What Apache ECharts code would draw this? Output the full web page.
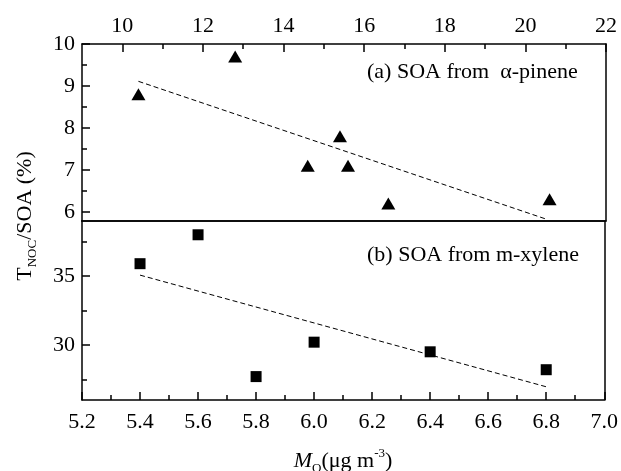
<!DOCTYPE html>
<html>
<head>
<meta charset="utf-8">
<script src="https://cdn.jsdelivr.net/npm/echarts@6/dist/echarts.min.js"></script>
<style>
html, body { margin: 0; padding: 0; background: #fff; }
#chart { width: 621px; height: 471px; }
</style>
</head>
<body>
<div id="chart"></div>
<script>
// panel (a): alpha-pinene, x on the top axis
const topX = [10.4, 12.8, 14.6, 15.4, 15.6, 16.6, 20.6]
const topY = [8.8, 9.7, 7.1, 7.8, 7.1, 6.2, 6.3]
const topFitX = [10.4, 20.5]
const topFitY = [9.11, 5.83]
// panel (b): m-xylene, x on the bottom axis
const botX = [5.4, 5.6, 5.8, 6.0, 6.4, 6.8]
const botY = [35.9, 38.0, 27.7, 30.2, 29.5, 28.2]
const botFitX = [5.4, 6.8]
const botFitY = [35.07, 26.96]
// ticks
const topXTicks = [10, 12, 14, 16, 18, 20, 22]
const topXMinor = [11, 13, 15, 17, 19, 21]
const topYTicks = [6, 7, 8, 9, 10]
const topYMinor = [6.5, 7.5, 8.5, 9.5]
const botYTicks = [30, 35]
const botYMinor = [27.5, 32.5, 37.5]

const FONT = 'Liberation Serif'
const black = '#000'
const edge = { color: black, width: 1.5 }

function pairs(xs, ys) {
  return xs.map((x, i) => [x, ys[i]])
}

// main axis with inward ticks and labels
function axis(opts, ticks) {
  const a = {
    type: 'value',
    splitLine: { show: false },
    axisLine: { show: true, onZero: false, lineStyle: edge },
    axisTick: { show: true, inside: true, length: 8, lineStyle: edge },
    axisLabel: { color: black, fontFamily: FONT, fontSize: 22, margin: 7 }
  }
  if (ticks) {
    a.axisTick.customValues = ticks
    a.axisLabel.customValues = ticks
  }
  return Object.assign(a, opts)
}

// short inward ticks only
function minorAxis(opts, ticks) {
  return Object.assign({
    type: 'value',
    splitLine: { show: false },
    axisLine: { show: false },
    axisLabel: { show: false },
    axisTick: { show: true, inside: true, length: 5, customValues: ticks, lineStyle: edge }
  }, opts)
}

// plain frame edge, no ticks
function edgeAxis(opts) {
  return Object.assign({
    type: 'value',
    splitLine: { show: false },
    axisLine: { show: true, onZero: false, lineStyle: edge },
    axisTick: { show: false },
    axisLabel: { show: false }
  }, opts)
}

const gridTop = { left: 82, width: 524, top: 44, height: 177 }
const gridBot = { left: 82, width: 524, top: 221, height: 179 }

const rich = {
  t: { fontFamily: FONT, fontSize: 22, lineHeight: 28, fill: black },
  i: { fontFamily: FONT, fontSize: 22, lineHeight: 28, fontStyle: 'italic', fill: black },
  s: { fontFamily: FONT, fontSize: 13, lineHeight: 13, verticalAlign: 'bottom', fill: black },
  p: { fontFamily: FONT, fontSize: 13, lineHeight: 13, verticalAlign: 'top', fill: black }
}

const chart = echarts.init(document.getElementById('chart'))
chart.setOption({
  backgroundColor: '#ffffff',
  animation: false,
  grid: [
    Object.assign({}, gridTop),
    Object.assign({}, gridBot),
    Object.assign({}, gridTop),
    Object.assign({}, gridBot)
  ],
  xAxis: [
    axis({ gridIndex: 0, position: 'top', min: 9, max: 22 }, topXTicks),
    axis({
      gridIndex: 1, position: 'bottom', min: 5.2, max: 7.0, interval: 0.2,
      minorTick: { show: true, splitNumber: 2, length: 5, lineStyle: edge },
      axisLabel: { color: black, fontFamily: FONT, fontSize: 22, margin: 11, formatter: v => v.toFixed(1) }
    }),
    edgeAxis({ gridIndex: 0, position: 'bottom', min: 9, max: 22 }),
    edgeAxis({ gridIndex: 1, position: 'top', min: 5.2, max: 7.0 }),
    minorAxis({ gridIndex: 2, position: 'top', min: 9, max: 22 }, topXMinor),
    { type: 'value', gridIndex: 3, show: false, min: 0, max: 1 }
  ],
  yAxis: [
    axis({ gridIndex: 0, position: 'left', min: 5.78, max: 10 }, topYTicks),
    axis({ gridIndex: 1, position: 'left', min: 26, max: 39 }, botYTicks),
    edgeAxis({ gridIndex: 0, position: 'right', min: 5.78, max: 10 }),
    edgeAxis({ gridIndex: 1, position: 'right', min: 26, max: 39 }),
    minorAxis({ gridIndex: 2, position: 'left', min: 5.78, max: 10 }, topYMinor),
    minorAxis({ gridIndex: 3, position: 'left', min: 26, max: 39 }, botYMinor)
  ],
  series: [
    {
      type: 'line', xAxisIndex: 0, yAxisIndex: 0, silent: true,
      symbol: 'none', data: pairs(topFitX, topFitY),
      lineStyle: { color: black, width: 1, type: [5, 3] }
    },
    {
      type: 'scatter', xAxisIndex: 0, yAxisIndex: 0,
      symbol: 'triangle', symbolSize: [14, 12],
      itemStyle: { color: black, opacity: 1 }, data: pairs(topX, topY)
    },
    {
      type: 'line', xAxisIndex: 1, yAxisIndex: 1, silent: true,
      symbol: 'none', data: pairs(botFitX, botFitY),
      lineStyle: { color: black, width: 1, type: [5, 3] }
    },
    {
      type: 'scatter', xAxisIndex: 1, yAxisIndex: 1,
      symbol: 'rect', symbolSize: 11,
      itemStyle: { color: black, opacity: 1 }, data: pairs(botX, botY)
    }
  ],
  graphic: [
    {
      type: 'text', x: 25, y: 216, rotation: Math.PI / 2,
      style: { text: '{t|T}{s|NOC}{t|/SOA (%)}', rich: rich, align: 'center', verticalAlign: 'middle' }
    },
    {
      type: 'text', x: 343, y: 461,
      style: { text: '{i|M}{s|O}{t|(μg m}{p|-3}{t|)}', rich: rich, align: 'center', verticalAlign: 'middle' }
    },
    {
      type: 'text', x: 367, y: 72,
      style: { text: '(a) SOA from  α-pinene', font: '22px "Liberation Serif"', fill: black, align: 'left', verticalAlign: 'middle' }
    },
    {
      type: 'text', x: 367, y: 255,
      style: { text: '(b) SOA from m-xylene', font: '22px "Liberation Serif"', fill: black, align: 'left', verticalAlign: 'middle' }
    }
  ]
})
</script>
</body>
</html>
